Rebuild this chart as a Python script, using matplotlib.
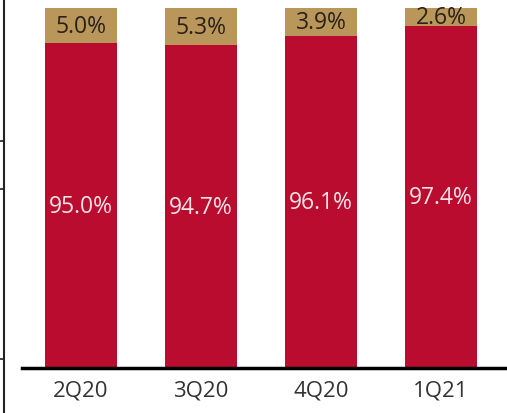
import numpy as np
import matplotlib.pyplot as plt
from matplotlib.lines import Line2D

# Quarterly split of the total, in percent
quarters = ['2Q20', '3Q20', '4Q20', '1Q21']
main_share = [95.0, 94.7, 96.1, 97.4]
other_share = [5.0, 5.3, 3.9, 2.6]

red = '#BA0C2F'
gold = '#B9975B'

plt.rcParams['font.family'] = ['Open Sans', 'DejaVu Sans']

fig = plt.figure(figsize=(5.07, 4.14), dpi=100)
ax = fig.add_axes([22 / 507, 45 / 414, 1 - 22 / 507, 1 - 45 / 414])

x = np.arange(len(quarters))
w = 0.6
ax.bar(x, main_share, w, color=red, zorder=2)
ax.bar(x, other_share, w, bottom=main_share, color=gold, zorder=2)

ax.set_xlim(-0.49, 3.55)
ax.set_ylim(48.9, 101.3)

# labels in the middle of the visible part of each segment
y0 = ax.get_ylim()[0]
for xi, m, o in zip(x, main_share, other_share):
    ax.text(xi, (y0 + m) / 2, f'{m:.1f}%', ha='center', va='center',
            color='#F6E4E8', fontsize=16.5)
    ax.text(xi, m + o / 2, f'{o:.1f}%', ha='center', va='center',
            color='#2B2118', fontsize=16.5)

ax.set_xticks(x)
ax.set_xticklabels(quarters, fontsize=16, color='#333333')
ax.tick_params(axis='x', length=0, pad=8)
ax.set_yticks([])
for s in ['top', 'right', 'left']:
    ax.spines[s].set_visible(False)
ax.spines['bottom'].set_linewidth(2.5)
ax.spines['bottom'].set_color('black')
ax.spines['bottom'].set_zorder(3)

# axis line of the neighbouring panel on the left edge
fig.add_artist(Line2D([4 / 507, 4 / 507], [0, 1], color='#222222', lw=1.5))
for yp in [142, 190, 360]:
    fig.add_artist(Line2D([0, 4 / 507], [1 - yp / 414, 1 - yp / 414],
                          color='#222222', lw=1.2))

fig.savefig('out.png', dpi=100)
